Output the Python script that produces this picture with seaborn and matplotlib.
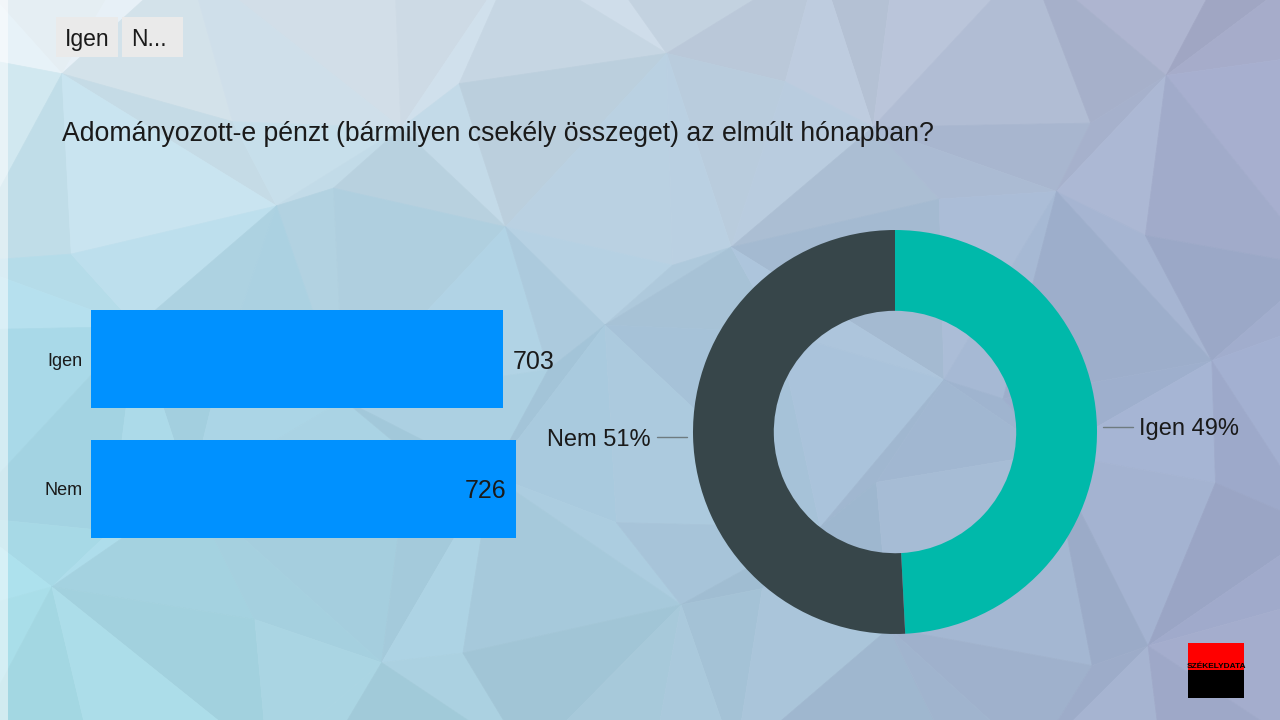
import numpy as np
import matplotlib
matplotlib.use("Agg")
import matplotlib.pyplot as plt
import seaborn as sns
from matplotlib.collections import PolyCollection
from matplotlib.patches import Rectangle

# --- Données ---
categories = ["Igen", "Nem"]
counts = [703, 726]
pie_labels = ["Igen", "Nem"]
title = "Adományozott-e pénzt (bármilyen csekély összeget) az elmúlt hónapban?"
tabs = ["Igen", "N..."]

bar_color = "#0091FF"
pie_colors = ["#00B9AA", "#37464A"]

sns.set_theme(style="white")
plt.rcParams["font.family"] = ["Liberation Sans", "DejaVu Sans"]

W, H = 1280, 720
fig = plt.figure(figsize=(12.8, 7.2), dpi=100)

# --- Fond "low poly" ---
bg = fig.add_axes([0, 0, 1, 1])
bg.set_xlim(0, W)
bg.set_ylim(H, 0)
bg.axis("off")

ctrl = np.array([
    [[0.91, 0.94, 0.96], [0.78, 0.84, 0.89], [0.64, 0.66, 0.78]],
    [[0.66, 0.85, 0.91], [0.66, 0.78, 0.86], [0.62, 0.67, 0.80]],
    [[0.66, 0.87, 0.91], [0.65, 0.78, 0.85], [0.62, 0.65, 0.78]],
])


def grad(x, y):
    u = np.clip(x / W, 0, 1) * 2
    v = np.clip(y / H, 0, 1) * 2
    i = min(int(v), 1)
    j = min(int(u), 1)
    fu, fv = u - j, v - i
    c = (ctrl[i, j] * (1 - fu) * (1 - fv) + ctrl[i, j + 1] * fu * (1 - fv)
         + ctrl[i + 1, j] * (1 - fu) * fv + ctrl[i + 1, j + 1] * fu * fv)
    return c


nx, ny = 10, 6
xs = np.linspace(-40, W + 40, nx + 1)
ys = np.linspace(-40, H + 40, ny + 1)
pts = np.zeros((ny + 1, nx + 1, 2))
for r in range(ny + 1):
    for c in range(nx + 1):
        jx = 45 * np.sin(c * 2.3 + r * 1.7) if 0 < c < nx else 0
        jy = 40 * np.cos(c * 1.3 + r * 2.9) if 0 < r < ny else 0
        pts[r, c] = (xs[c] + jx, ys[r] + jy)

polys, cols = [], []
for r in range(ny):
    for c in range(nx):
        a, b = pts[r, c], pts[r, c + 1]
        d, e = pts[r + 1, c], pts[r + 1, c + 1]
        tris = [[a, b, e], [a, e, d]] if (r + c) % 2 == 0 else [[a, b, d], [b, e, d]]
        for k, t in enumerate(tris):
            t = np.array(t)
            cx, cy = t.mean(axis=0)
            shade = 0.022 * np.sin(r * 3.1 + c * 1.9 + k * 2.2)
            polys.append(t)
            cols.append(np.clip(grad(cx, cy) + shade, 0, 1))
bg.add_collection(PolyCollection(polys, facecolors=cols, edgecolors=cols, linewidths=0.5))
bg.add_patch(Rectangle((0, 0), 8, H, color="white", alpha=0.5, lw=0))

# onglets
tab_x = [56, 122]
tab_w = [62, 61]
for t, x0, w in zip(tabs, tab_x, tab_w):
    bg.add_patch(Rectangle((x0, 17), w, 40, color="#EAEAEA", lw=0))
    bg.text(x0 + 9, 37, t, fontsize=16.5, va="center_baseline", ha="left", color="#1A1A1A")

# titre
bg.text(62, 131, title, fontsize=19.2, va="center_baseline", ha="left", color="#1A1A1A")

# logo
bg.add_patch(Rectangle((1188, 643), 56, 27, color="#FF0000", lw=0))
bg.add_patch(Rectangle((1188, 670), 56, 28, color="#000000", lw=0))
bg.text(1216, 667, "SZÉKELYDATA", fontsize=6, ha="center", va="center",
        color="black", fontweight="bold", fontstretch="condensed")

# --- Barres horizontales ---
axb = fig.add_axes([91 / W, (H - 553.5) / H, 425 / W, 259 / H])
axb.patch.set_alpha(0)
sns.barplot(x=counts, y=categories, orient="h", color=bar_color, width=0.757,
            saturation=1, linewidth=0, ax=axb)
axb.set_xlim(0, max(counts))
axb.set_ylim(1.5, -0.5)
axb.set_xlabel("")
axb.set_ylabel("")
axb.set_xticks([])
sns.despine(ax=axb, left=True, bottom=True)
axb.tick_params(axis="y", length=0, pad=6, labelsize=13, labelcolor="#1A1A1A")
for lbl in axb.get_yticklabels():
    lbl.set_verticalalignment("center_baseline")
for i, v in enumerate(counts):
    if v == max(counts):
        axb.annotate(str(v), (v, i), xytext=(-7, 0), textcoords="offset points",
                     ha="right", va="center_baseline", fontsize=18, color="#1A1A1A")
    else:
        axb.annotate(str(v), (v, i), xytext=(7, 0), textcoords="offset points",
                     ha="left", va="center_baseline", fontsize=18, color="#1A1A1A",
                     annotation_clip=False)

# --- Anneau ---
R = 202
axp = fig.add_axes([(895 - R) / W, (H - 432 - R) / H, 2 * R / W, 2 * R / H])
axp.patch.set_alpha(0)
wedges, _ = axp.pie(counts, colors=pie_colors, startangle=90, counterclock=False,
                    wedgeprops=dict(width=0.40, linewidth=0))
axp.set_xlim(-1, 1)
axp.set_ylim(-1, 1)
axp.set_aspect("equal")
axp.axis("off")

total = sum(counts)
for w, lab, v in zip(wedges, pie_labels, counts):
    ang = np.deg2rad((w.theta1 + w.theta2) / 2)
    sx = np.sign(np.cos(ang))
    y = np.sin(ang)
    axp.plot([sx * 1.03, sx * 1.18], [y, y], color="#6E7B80", lw=1, clip_on=False)
    axp.text(sx * 1.21, y, f"{lab} {round(100 * v / total)}%", fontsize=17,
             ha="left" if sx > 0 else "right", va="center_baseline", color="#1A1A1A",
             clip_on=False)

fig.savefig("out.png", dpi=100)
